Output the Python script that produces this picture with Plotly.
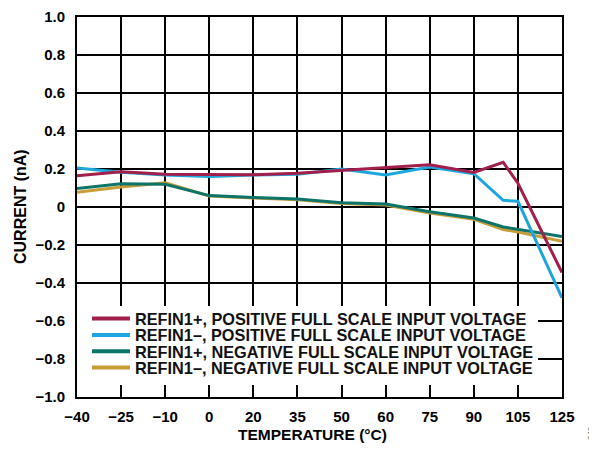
import numpy as np
import plotly.graph_objects as go

tick_temps = [-40, -25, -10, 0, 20, 35, 50, 60, 75, 90, 105, 125]
tick_labels = ["\u221240", "\u221225", "\u221210", "0", "20", "35", "50", "60", "75", "90", "105", "125"]

temps = [-40, -25, -10, 0, 20, 35, 50, 60, 75, 90, 100, 105, 125]
refin1p_pos = [0.165, 0.185, 0.172, 0.172, 0.170, 0.178, 0.193, 0.205, 0.222, 0.182, 0.235, 0.125, -0.345]
refin1m_pos = [0.205, 0.183, 0.168, 0.160, 0.168, 0.173, 0.200, 0.168, 0.210, 0.175, 0.035, 0.030, -0.478]
refin1p_neg = [0.097, 0.122, 0.120, 0.060, 0.050, 0.042, 0.022, 0.016, -0.025, -0.058, -0.105, -0.118, -0.155]
refin1m_neg = [0.077, 0.105, 0.128, 0.058, 0.048, 0.038, 0.018, 0.010, -0.032, -0.065, -0.118, -0.132, -0.180]

y_ticks = [1.0, 0.8, 0.6, 0.4, 0.2, 0, -0.2, -0.4, -0.6, -0.8, -1.0]
y_labels = ["1.0", "0.8", "0.6", "0.4", "0.2", "0", "\u22120.2", "\u22120.4", "\u22120.6", "\u22120.8", "\u22121.0"]

series_names = [
    "REFIN1+, POSITIVE FULL SCALE INPUT VOLTAGE",
    "REFIN1\u2013, POSITIVE FULL SCALE INPUT VOLTAGE",
    "REFIN1+, NEGATIVE FULL SCALE INPUT VOLTAGE",
    "REFIN1\u2013, NEGATIVE FULL SCALE INPUT VOLTAGE",
]
series_values = [refin1p_pos, refin1m_pos, refin1p_neg, refin1m_neg]
series_colors = ["#A21F4B", "#1CA6DD", "#0C7469", "#C79D38"]

tick_idx = list(range(len(tick_temps)))

def to_pos(t):
    return np.interp(t, tick_temps, tick_idx)

font = "Liberation Sans, Arial, sans-serif"

# geometry (figure pixels; page has an 8px body margin)
W, H = 589, 441
L, R, T, B = 69, 35, 9, 52
PW, PH = W - L - R, H - T - B

def px_x(fx):
    return (fx - L) / PW

def px_y(fy):
    return (H - B - fy) / PH

fig = go.Figure()
for i in [3, 2, 1, 0]:
    fig.add_trace(go.Scatter(x=to_pos(temps), y=series_values[i], mode="lines",
                             name=series_names[i], line=dict(color=series_colors[i], width=3),
                             showlegend=False))

legend_rows = [311, 327.3, 343.6, 360]
legend_keys = ["legend", "legend2", "legend3", "legend4"]
for i in range(4):
    fig.add_trace(go.Scatter(x=[None], y=[None], mode="lines", name=series_names[i],
                             line=dict(color=series_colors[i], width=4),
                             legend=legend_keys[i]))

layout_legends = {}
for i, key in enumerate(legend_keys):
    layout_legends[key] = dict(
        x=px_x(79), y=px_y(legend_rows[i]), xanchor="left", yanchor="middle",
        bgcolor="rgba(0,0,0,0)", borderwidth=0, itemwidth=38,
        font=dict(family=font, size=16.3, color="#111", weight="bold"))

fig.update_layout(
    width=W, height=H,
    margin=dict(l=L, r=R, t=T, b=B),
    paper_bgcolor="white", plot_bgcolor="white",
    font=dict(family=font, size=13, color="black"),
    showlegend=True,
    xaxis=dict(range=[0, 11], tickmode="array", tickvals=tick_idx, ticktext=tick_labels,
               showgrid=True, gridcolor="black", gridwidth=1.5, automargin=False,
               showline=True, linecolor="black", linewidth=2, mirror=True,
               ticks="", zeroline=False, ticklabelstandoff=5, ticklabeloverflow="allow",
               tickfont=dict(family=font, size=15, color="black", weight="bold")),
    yaxis=dict(range=[-1.0, 1.0], tickmode="array", tickvals=y_ticks, ticktext=y_labels,
               showgrid=True, gridcolor="black", gridwidth=1.5, automargin=False,
               showline=True, linecolor="black", linewidth=2, mirror=True,
               ticks="", zeroline=False, ticklabelstandoff=7, ticklabeloverflow="allow",
               tickfont=dict(family=font, size=15, color="black", weight="bold")),
    **layout_legends,
)

# white legend backdrop (between gridlines and traces)
fig.add_shape(type="rect", xref="x", yref="y", layer="between",
              x0=0, x1=(530 - L) / PW * 11,
              y0=1 - (377 - T) / PH * 2, y1=1 - (298 - T) / PH * 2,
              fillcolor="white", line=dict(width=0))

fig.add_annotation(text="<b>TEMPERATURE (\u00b0C)</b>", xref="paper", yref="paper",
                   x=px_x(304), y=px_y(426), xanchor="center", yanchor="middle",
                   showarrow=False, font=dict(family=font, size=15.5, color="black"))
fig.add_annotation(text="<b>CURRENT (nA)</b>", xref="paper", yref="paper",
                   x=px_x(12), y=0.5, xanchor="center", yanchor="middle",
                   showarrow=False, textangle=-90,
                   font=dict(family=font, size=16, color="black"))
fig.add_annotation(text="049", xref="paper", yref="paper",
                   x=px_x(582), y=px_y(425), xanchor="center", yanchor="middle",
                   showarrow=False, textangle=-90,
                   font=dict(family=font, size=8, color="#555"))

fig.write_html("out.html")
